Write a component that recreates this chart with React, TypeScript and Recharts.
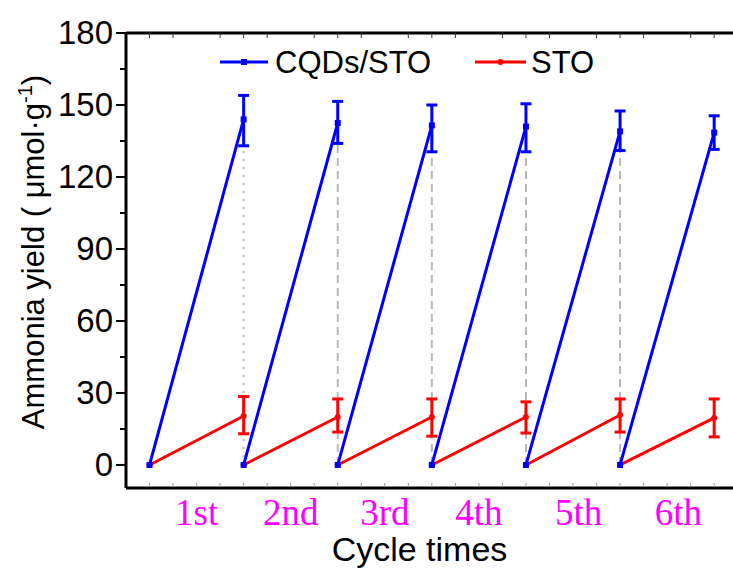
import { LineChart, Line, XAxis, YAxis, ErrorBar, ReferenceLine, ReferenceDot, Legend } from "recharts"

const cycleLabels = ["1st", "2nd", "3rd", "4th", "5th", "6th"]
const cycleLabelPos = [0.5, 1.5, 2.5, 3.5, 4.56, 5.62]

// CQDs/STO end-of-cycle yield with error bar bounds
const cqdsEnd = [144, 142.5, 141.5, 141, 139, 138.5]
const cqdsLow = [133, 134, 130.5, 130.5, 131, 131.5]
const cqdsHigh = [154, 151.5, 150, 150.5, 147.5, 145.5]

// STO end-of-cycle yield with error bar bounds
const stoEnd = [20.4, 20, 20, 20, 20.8, 19.6]
const stoLow = [13, 13.7, 12, 13.3, 13.7, 11.7]
const stoHigh = [28.5, 27.5, 27.5, 26.3, 27.5, 27.5]

const yTicks = [0, 15, 30, 45, 60, 75, 90, 105, 120, 135, 150, 165, 180]
const xMinor = Array.from({ length: 25 }, (_, i) => i * 0.25)

const sans = "'Liberation Sans', Arial, sans-serif"
const serif = "'Liberation Serif', 'Times New Roman', serif"

function buildSeries(end: number[], low: number[], high: number[]) {
  const out: { x: number; y: number | null; err?: number[] }[] = []
  end.forEach((v, i) => {
    out.push({ x: i, y: 0 })
    out.push({ x: i + 1, y: v, err: [v - low[i], high[i] - v] })
    out.push({ x: i + 1, y: null })
  })
  return out
}

const cqdsData = buildSeries(cqdsEnd, cqdsLow, cqdsHigh)
const stoData = buildSeries(stoEnd, stoLow, stoHigh)

const YTick = (props: any) => {
  const { x, y, payload } = props
  const major = payload.value % 30 === 0
  return (
    <g>
      <line x1={x + (major ? 2 : 6)} x2={x + 12} y1={y} y2={y} stroke="#000" strokeWidth={2} />
      {major && (
        <text x={x - 1} y={y + 11} textAnchor="end" fontFamily={sans} fontSize={33} fill="#000">
          {payload.value}
        </text>
      )}
    </g>
  )
}

const BottomTick = (props: any) => {
  const { x, y, payload } = props
  const idx = cycleLabelPos.indexOf(payload.value)
  const isMinor = Math.abs(payload.value * 4 - Math.round(payload.value * 4)) < 1e-6
  return (
    <g>
      {isMinor && <line x1={x} x2={x} y1={y - 5} y2={y - 1} stroke="#999" strokeWidth={1} />}
      {idx >= 0 && (
        <text x={x} y={y + 37} textAnchor="middle" fontFamily={serif} fontSize={37} fill="#ff00ff">
          {cycleLabels[idx]}
        </text>
      )}
    </g>
  )
}

const TopTick = (props: any) => {
  const { x, y } = props
  return <line x1={x} x2={x} y1={y} y2={y + 5} stroke="#333" strokeWidth={1} />
}

const squareDot = (props: any) => {
  const { cx, cy, index, value } = props
  if (value == null || cy == null) return <g key={index} />
  return <rect key={index} x={cx - 3} y={cy - 3} width={6} height={6} fill="#0000ff" />
}

const circleDot = (props: any) => {
  const { cx, cy, index, value } = props
  if (value == null || cy == null) return <g key={index} />
  return <circle key={index} cx={cx} cy={cy} r={3} fill="#ff0000" />
}

const LegendContent = () => (
  <svg width={400} height={44}>
    <line x1={2} x2={50} y1={22} y2={22} stroke="#0000ff" strokeWidth={3} />
    <rect x={23} y={19} width={6} height={6} fill="#0000ff" />
    <text x={57} y={33} fontFamily={sans} fontSize={31} fill="#000">CQDs/STO</text>
    <line x1={257} x2={308} y1={22} y2={22} stroke="#ff0000" strokeWidth={3} />
    <circle cx={282.5} cy={22} r={3} fill="#ff0000" />
    <text x={313} y={33} fontFamily={sans} fontSize={31} fill="#000">STO</text>
  </svg>
)

const YLabel = () => (
  <text
    x={44}
    y={252}
    transform="rotate(-90, 44, 252)"
    textAnchor="middle"
    fontFamily={sans}
    fontSize={31}
    fill="#000"
  >
    Ammonia yield ( μmol·g
    <tspan dy={-12} fontSize={20}>-1</tspan>
    <tspan dy={12}>)</tspan>
  </text>
)

export default function App() {
  const allBottomTicks = Array.from(new Set([...xMinor, ...cycleLabelPos])).sort((a, b) => a - b)
  return (
    <div style={{ position: "absolute", left: 0, top: 0, width: 733, height: 568, background: "#fff" }}>
      <LineChart width={733} height={568} margin={{ top: 32, right: 0, bottom: 0, left: 0 }}>
        <XAxis
          xAxisId="top"
          orientation="top"
          type="number"
          dataKey="x"
          domain={[-0.25, 6.2]}
          allowDataOverflow
          ticks={xMinor}
          height={1}
          tickSize={0}
          tickMargin={0}
          tickLine={false}
          tick={<TopTick />}
          axisLine={{ stroke: "#000", strokeWidth: 3 }}
        />
        <XAxis
          type="number"
          dataKey="x"
          domain={[-0.25, 6.2]}
          allowDataOverflow
          ticks={allBottomTicks}
          interval={0}
          height={80}
          tickSize={0}
          tickMargin={0}
          tickLine={false}
          tick={<BottomTick />}
          axisLine={{ stroke: "#000", strokeWidth: 3 }}
          label={{
            value: "Cycle times",
            position: "insideBottom",
            offset: 7,
            dx: -10,
            style: { fontFamily: sans, fontSize: 34, fill: "#000" },
          }}
        />
        <YAxis
          type="number"
          domain={[-9.6, 180]}
          allowDataOverflow
          ticks={yTicks}
          interval={0}
          width={126}
          tickSize={10}
          tickLine={false}
          tick={<YTick />}
          axisLine={{ stroke: "#000", strokeWidth: 3 }}
          label={{ content: <YLabel /> }}
        />
        {cqdsEnd.slice(0, 5).map((v, i) => (
          <ReferenceLine
            key={i}
            segment={[{ x: i + 1, y: 0 }, { x: i + 1, y: v }]}
            stroke="#b8b8b8"
            strokeWidth={2}
            strokeDasharray={i === 0 ? "2 6" : "8 5"}
          />
        ))}
        <Line
          data={stoData}
          dataKey="y"
          stroke="#ff0000"
          strokeWidth={3}
          dot={circleDot}
          activeDot={false}
          isAnimationActive={false}
        >
          <ErrorBar dataKey="err" direction="y" width={5.5} stroke="#ff0000" strokeWidth={3} isAnimationActive={false} />
        </Line>
        <Line
          data={cqdsData}
          dataKey="y"
          stroke="#0000ff"
          strokeWidth={3}
          dot={squareDot}
          activeDot={false}
          isAnimationActive={false}
        >
          <ErrorBar dataKey="err" direction="y" width={5.5} stroke="#0000ff" strokeWidth={3} isAnimationActive={false} />
        </Line>
        <ReferenceDot x={1} y={stoEnd[0]} r={3} fill="#22dd22" stroke="none" />
        <Legend
          layout="horizontal"
          verticalAlign="middle"
          align="center"
          content={<LegendContent />}
          wrapperStyle={{ top: 40, left: 218, width: 400, height: 44 }}
        />
      </LineChart>
    </div>
  )
}
